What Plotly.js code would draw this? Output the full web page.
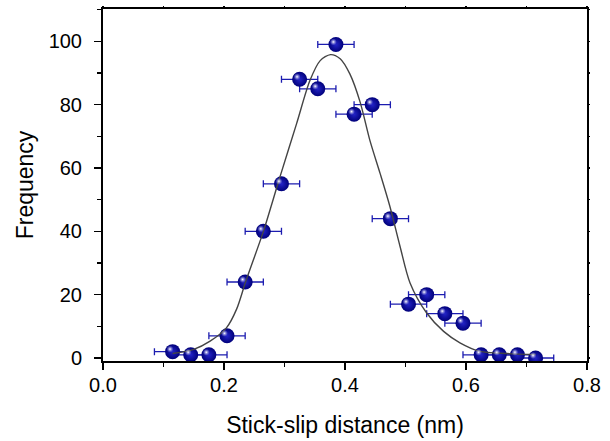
<!DOCTYPE html>
<html>
<head>
<meta charset="utf-8">
<script src="https://cdn.plot.ly/plotly-3.0.1.min.js"></script>
<style>html,body{margin:0;padding:0;background:#fff;}#chart{width:610px;height:441px;}</style>
</head>
<body>
<div id="chart"></div>
<script>
// Measured data points (stick-slip distance in nm, frequency)
const distance = [0.115,0.145,0.175,0.205,0.235,0.265,0.295,0.325,0.355,0.385,0.415,0.445,0.475,0.505,0.535,0.565,0.595,0.625,0.655,0.685,0.715];
const frequency = [2,1,1,7,24,40,55,88,85,99,77,80,44,17,20,14,11,1,1,1,0];
const distanceErr = [0.03,0.03,0.03,0.03,0.03,0.03,0.03,0.03,0.03,0.03,0.03,0.03,0.03,0.03,0.03,0.03,0.03,0.03,0.03,0.03,0.03];

// Fit curve
const fitX = [0.115,0.15,0.177,0.204,0.221,0.236,0.265,0.281,0.2925,0.32,0.342,0.359,0.376,0.392,0.408,0.425,0.441,0.458,0.474,0.491,0.5075,0.535,0.563,0.59,0.623,0.668,0.715];
const fitY = [1.4,2.7,5.3,9.5,15.5,24.2,39.9,49.9,57.2,74.0,87.6,93.9,95.8,94.5,89.7,80.8,68.8,58.3,48.0,35.2,23.7,14.2,8.4,4.8,2.1,1.4,1.1];

const xTickVals = [0, 0.2, 0.4, 0.6, 0.8];
const xTickText = ['0.0', '0.2', '0.4', '0.6', '0.8'];
const yTickVals = [0, 20, 40, 60, 80, 100];

const xRange = [0, 0.8];
const yRange = [-0.95, 110.2];
const dx = 0.0042, dy = 0.8;

const traces = [
  { // error bars (drawn beneath spheres)
    x: distance, y: frequency, type: 'scatter', mode: 'markers',
    marker: {size: 1, opacity: 0},
    error_x: {type: 'data', array: distanceErr, visible: true, color: '#1c1cb0', thickness: 1.3, width: 3.5},
    hoverinfo: 'skip', showlegend: false
  },
  { // sphere bodies
    x: distance, y: frequency, type: 'scatter', mode: 'markers',
    marker: {size: 15, color: '#00007a', gradient: {type: 'radial', color: '#2424c8'}, line: {width: 0}},
    showlegend: false
  },
  { // sphere highlights (on a slightly shifted overlay axis)
    x: distance, y: frequency, type: 'scatter', mode: 'markers',
    xaxis: 'x2', yaxis: 'y2',
    marker: {size: 7, color: 'rgba(160,160,245,0)', gradient: {type: 'radial', color: '#ffffff'}, line: {width: 0}},
    hoverinfo: 'skip', showlegend: false
  },
  { // fit curve
    x: fitX, y: fitY, type: 'scatter', mode: 'lines',
    line: {color: '#444444', width: 1.4, shape: 'spline', smoothing: 0.8},
    hoverinfo: 'skip', showlegend: false
  },
  { // dummy trace for mirrored tick axes
    x: distance, y: frequency, type: 'scatter', mode: 'markers',
    xaxis: 'x3', yaxis: 'y3', marker: {opacity: 0}, hoverinfo: 'skip', showlegend: false
  }
];

const tickFont = {family: 'Liberation Sans, Arial, sans-serif', size: 20, color: '#000'};
const titleFont = {family: 'Liberation Sans, Arial, sans-serif', size: 23, color: '#000'};

const layout = {
  width: 610, height: 441,
  margin: {l: 103, r: 23, t: 9, b: 80, pad: 0},
  paper_bgcolor: '#fff', plot_bgcolor: '#fff',
  font: tickFont,
  xaxis: {
    range: xRange, tickmode: 'array', tickvals: xTickVals, ticktext: xTickText,
    ticks: 'outside', ticklen: 7, tickwidth: 1.5, tickcolor: '#000',
    minor: {dtick: 0.1, tick0: 0, ticks: 'outside', ticklen: 4, tickwidth: 1.5, tickcolor: '#000', showgrid: false},
    showline: true, linewidth: 2, linecolor: '#000', mirror: true,
    showgrid: false, zeroline: false, tickfont: tickFont, ticklabelstandoff: -2,
    title: {text: 'Stick-slip distance (nm)', font: titleFont, standoff: 22}
  },
  yaxis: {
    range: yRange, tickmode: 'array', tickvals: yTickVals,
    ticks: 'outside', ticklen: 7, tickwidth: 1.5, tickcolor: '#000',
    minor: {dtick: 10, tick0: 0, ticks: 'outside', ticklen: 4, tickwidth: 1.5, tickcolor: '#000', showgrid: false},
    showline: true, linewidth: 2, linecolor: '#000', mirror: true,
    showgrid: false, zeroline: false, tickfont: tickFont, ticklabelstandoff: 8,
    title: {text: 'Frequency', font: titleFont, standoff: 9}
  },
  xaxis2: {overlaying: 'x', anchor: 'y2', range: [xRange[0] + dx, xRange[1] + dx], visible: false},
  yaxis2: {overlaying: 'y', anchor: 'x2', range: [yRange[0] - dy, yRange[1] - dy], visible: false},
  xaxis3: {overlaying: 'x', anchor: 'y3', side: 'top', range: xRange, tickmode: 'linear', tick0: 0, dtick: 0.1,
           ticks: 'outside', ticklen: 2, tickwidth: 1.5, tickcolor: '#000', showticklabels: false,
           showline: false, showgrid: false, zeroline: false},
  yaxis3: {overlaying: 'y', anchor: 'x3', side: 'right', range: yRange, tickmode: 'linear', tick0: 0, dtick: 10,
           ticks: 'outside', ticklen: 2, tickwidth: 1.5, tickcolor: '#000', showticklabels: false,
           showline: false, showgrid: false, zeroline: false}
};

Plotly.newPlot('chart', traces, layout, {displayModeBar: false, staticPlot: true});
</script>
</body>
</html>
